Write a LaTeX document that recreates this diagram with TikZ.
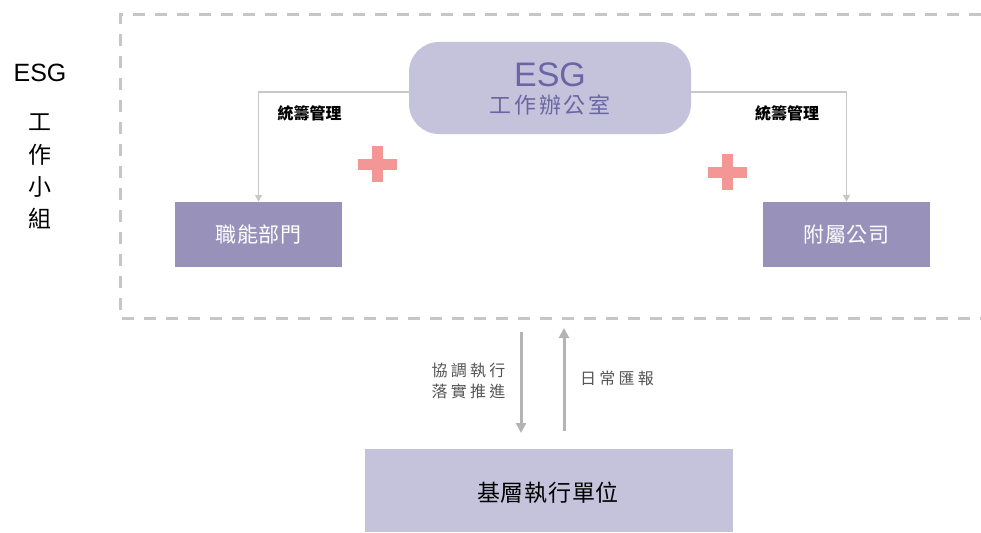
\documentclass[tikz,border=0pt]{standalone}
\usepackage{fontspec}
\setmainfont{Noto Sans CJK TC}
\newfontfamily\arialf{Liberation Sans}
\usetikzlibrary{arrows.meta}
\definecolor{officefill}{HTML}{C5C3DC}
\definecolor{officetext}{HTML}{6A66A3}
\definecolor{deptfill}{HTML}{9892BB}
\definecolor{plusred}{HTML}{F49696}
\definecolor{connline}{HTML}{C8C8C8}
\definecolor{frameline}{HTML}{C6C6C6}
\definecolor{bigarrowc}{HTML}{B4B4B4}
\definecolor{labelgray}{HTML}{555555}
\tikzset{
  deptbox/.style={fill=deptfill, draw=none, minimum width=167pt, minimum height=65pt,
    text=white, font=\fontsize{21}{25}\selectfont\addfontfeatures{LetterSpace=4}, inner sep=0pt},
  officebox/.style={fill=officefill, draw=none, rounded corners=30pt, minimum width=282pt,
    minimum height=92pt, inner sep=0pt},
  basebox/.style={fill=officefill, draw=none, minimum width=368pt, minimum height=83pt, inner sep=0pt},
  conn/.style={draw=connline, line width=1.4pt, -{Triangle[width=7pt,length=7pt]}},
  bigarr/.style={draw=bigarrowc, line width=3pt, -{Triangle[width=10pt,length=10pt]}},
  mgmt/.style={font=\fontsize{16}{18}\selectfont\bfseries, text=black, inner sep=0pt},
  flowlabel/.style={font=\fontsize{16}{21}\selectfont\addfontfeatures{LetterSpace=20}, text=labelgray,
    align=center, inner sep=0pt},
  sidechar/.style={font=\fontsize{23}{25}\selectfont, text=black, inner sep=0pt},
  plusbar/.style={fill=plusred, draw=none},
}
\begin{document}
\begin{tikzpicture}[x=1pt,y=-1pt]
\useasboundingbox (0,0) rectangle (981,532);
% dashed frame
\draw[frameline, line width=3pt, dash pattern=on 12pt off 10pt] (981,15) -- (120,15) -- (120,318) -- (981,318);
% side title
\node[font=\fontsize{25}{30}\selectfont\arialf, inner sep=0pt] (esgside) at (40,72.5) {ESG};
\node[sidechar] (s1) at (40,122) {工};
\node[sidechar] (s2) at (40,155) {作};
\node[sidechar] (s3) at (40,187) {小};
\node[sidechar] (s4) at (40,218) {組};
% office
\node[officebox] (office) at (550,88) {};
\node[font=\fontsize{34}{36}\selectfont\arialf, text=officetext, inner sep=0pt] (officeesg) at (550,75) {ESG};
\node[font=\fontsize{22}{25}\selectfont\addfontfeatures{LetterSpace=12}, text=officetext, inner sep=0pt] (officename) at (550,105.5) {工作辦公室};
% departments
\node[deptbox] (dept) at (258.5,234.5) {職能部門};
\node[deptbox] (subs) at (846.5,234.5) {附屬公司};
% connectors
\draw[conn] ([yshift=-4pt]office.west) -| (dept.north);
\draw[conn] ([yshift=-4pt]office.east) -| (subs.north);
\node[mgmt] (mgmtl) at (309.5,113.5) {統籌管理};
\node[mgmt] (mgmtr) at (787,113.5) {統籌管理};
% plus signs
\fill[plusbar] (358,158.5) rectangle (397,169.5);
\fill[plusbar] (372,146) rectangle (383,182);
\fill[plusbar] (708,166.5) rectangle (747,177.5);
\fill[plusbar] (722,154) rectangle (733,190);
% base unit
\node[basebox] (base) at (549,490.5) {};
\node[font=\fontsize{23}{26}\selectfont\addfontfeatures{LetterSpace=3}, text=black, inner sep=0pt] (basetext) at (548,493) {基層執行單位};
% vertical arrows
\coordinate (downstart) at (521,332);
\coordinate (downend) at (521,433);
\coordinate (upstart) at (564,431);
\coordinate (upend) at (564,328);
\draw[bigarr] (downstart) -- (downend);
\draw[bigarr] (upstart) -- (upend);
\node[flowlabel] (lbldown) at (468.5,381) {協調執行\\落實推進};
\node[flowlabel] (lblup) at (617,378) {日常匯報};
\end{tikzpicture}
\end{document}
